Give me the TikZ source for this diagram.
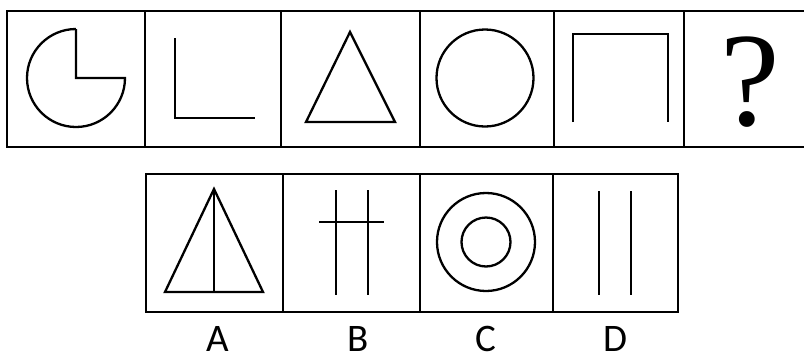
\documentclass[tikz,border=0pt]{standalone}
\usepackage{fontspec}
\newfontfamily\qfont{Liberation Serif}
\newfontfamily\lfont{Carlito}
\begin{document}
\begin{tikzpicture}[x=1pt,y=-1pt,
  frame/.style={line width=2.6pt},
  fig/.style={line width=2.3pt, line join=miter},
  lbl/.style={inner sep=0pt, font=\lfont\fontsize{39}{39}\selectfont}]
\useasboundingbox (0,0) rectangle (804,357);
% top row
\draw[frame] (812,11) -- (7,11) -- (7,147) -- (812,147);
\foreach \x in {145,281,420,554,684} \draw[frame] (\x,11) -- (\x,147);
% pac-man
\draw[fig] (76,29) -- (76,78) -- (125,78) arc[start angle=0, end angle=270, radius=49];
% L
\draw[fig] (175,38) -- (175,118) -- (255,118);
% triangle
\draw[fig] (350,32) -- (395,122) -- (306,122) -- cycle;
% circle
\draw[fig] (485,78) circle[radius=48.5];
% Pi shape
\draw[fig] (573,122) -- (573,34) -- (668,34) -- (668,122);
% question mark
\node[inner sep=0pt, anchor=center, font=\qfont\fontsize{134}{134}\selectfont] (q) at (750,82) {?};
% bottom row
\draw[frame] (146,174) rectangle (678,312);
\foreach \x in {283,420,553} \draw[frame] (\x,174) -- (\x,312);
% A
\draw[fig] (214,189) -- (263,292) -- (165,292) -- cycle;
\draw[fig] (214,189) -- (214,292);
% B
\draw[fig] (336,190) -- (336,295);
\draw[fig] (368,190) -- (368,295);
\draw[fig] (319,222) -- (384,222);
% C
\draw[fig] (486,242) circle[radius=49];
\draw[fig] (486,242) circle[radius=24.5];
% D
\draw[fig] (599,191) -- (599,295);
\draw[fig] (631,191) -- (631,295);
% labels
\node[lbl] (la) at (218,339) {A};
\node[lbl] (lb) at (358,339) {B};
\node[lbl] (lc) at (486,339) {C};
\node[lbl] (ld) at (615,339) {D};
\end{tikzpicture}
\end{document}
